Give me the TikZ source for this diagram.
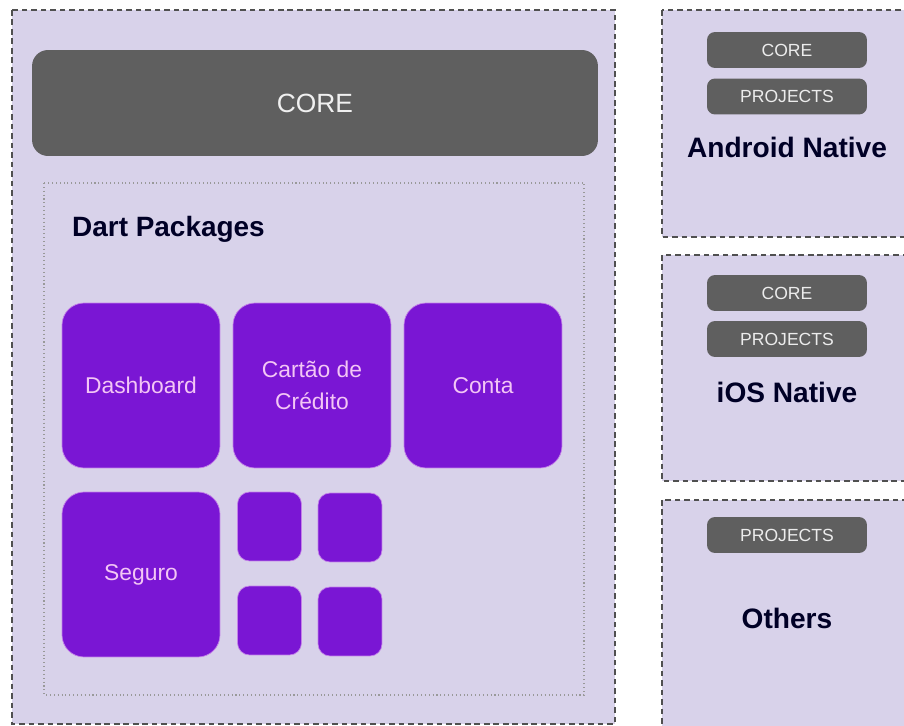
\documentclass[tikz,border=0pt]{standalone}
\usepackage{fontspec}
\setmainfont{Liberation Sans}
\usepackage{tikz}
\usetikzlibrary{positioning}

\definecolor{lavender}{HTML}{D8D2EA}
\definecolor{coregray}{HTML}{5F5F5F}
\definecolor{pkgpurple}{HTML}{7A16D4}
\definecolor{pkgtext}{HTML}{F3C6F5}
\definecolor{edgegray}{HTML}{505050}

\begin{document}
\begin{tikzpicture}[x=0.02cm, y=-0.02cm,
  panel/.style={draw=edgegray, fill=lavender, line width=0.7pt, dash pattern=on 3.2pt off 2.2pt},
  corebar/.style={fill=coregray, rounded corners=0.16cm, minimum width=3.2cm, minimum height=0.72cm,
    text=white!85!gray, font=\fontsize{10}{12}\selectfont, inner sep=0pt},
  tile/.style={fill=pkgpurple, draw=pkgtext!60!pkgpurple, line width=0.4pt, rounded corners=0.44cm,
    minimum width=3.16cm, minimum height=3.3cm, text=pkgtext, align=center,
    font=\fontsize{13}{16}\selectfont, inner sep=0pt},
  minitile/.style={tile, rounded corners=0.24cm, minimum width=1.28cm, minimum height=1.38cm},
  platform/.style={font=\bfseries\fontsize{16}{19}\selectfont, text=black!85!blue}]
  \useasboundingbox (0,0) rectangle (904,726);
  \clip (0,0) rectangle (904,726);
  % flutter side
  \draw[panel] (12,10) rectangle (615,724);
  \node[fill=coregray, rounded corners=0.32cm, minimum width=11.32cm, minimum height=2.12cm,
    text=white!88!gray, font=\fontsize{15}{18}\selectfont] (core) at (315,103) {CORE};
  \draw[gray!80, line width=0.6pt, dash pattern=on 0.6pt off 1.6pt] (44,183) rectangle (584,695);
  \node[anchor=west, font=\bfseries\fontsize{15.9}{19}\selectfont, text=black!85!blue] (dart) at (66,229) {Dart Packages};
  % packages
  \node[tile] (dashboard) at (141,385.5) {Dashboard};
  \node[tile] (cartao) at (312,385.5) {Cartão de\\[2.5pt]Crédito};
  \node[tile] (conta) at (483,385.5) {Conta};
  \node[tile] (seguro) at (141,574.5) {Seguro};
  \node[minitile] (mini1) at (269.5,526.5) {};
  \node[minitile] (mini2) at (350,527.5) {};
  \node[minitile] (mini3) at (269.5,620.5) {};
  \node[minitile] (mini4) at (350,621.5) {};
  % native side
  \draw[panel] (662,10) rectangle (915,237);
  \draw[panel] (662,255) rectangle (915,481);
  \draw[panel] (662,500) rectangle (915,740);
  \node[corebar] (andcore) at (787,50) {CORE};
  \node[corebar] (andproj) at (787,96.5) {PROJECTS};
  \node[platform] (android) at (787,147) {Android Native};
  \node[corebar] (ioscore) at (787,293) {CORE};
  \node[corebar] (iosproj) at (787,339) {PROJECTS};
  \node[platform] (ios) at (787,392) {iOS Native};
  \node[corebar] (othproj) at (787,535) {PROJECTS};
  \node[platform] (others) at (787,618) {Others};
\end{tikzpicture}
\end{document}
